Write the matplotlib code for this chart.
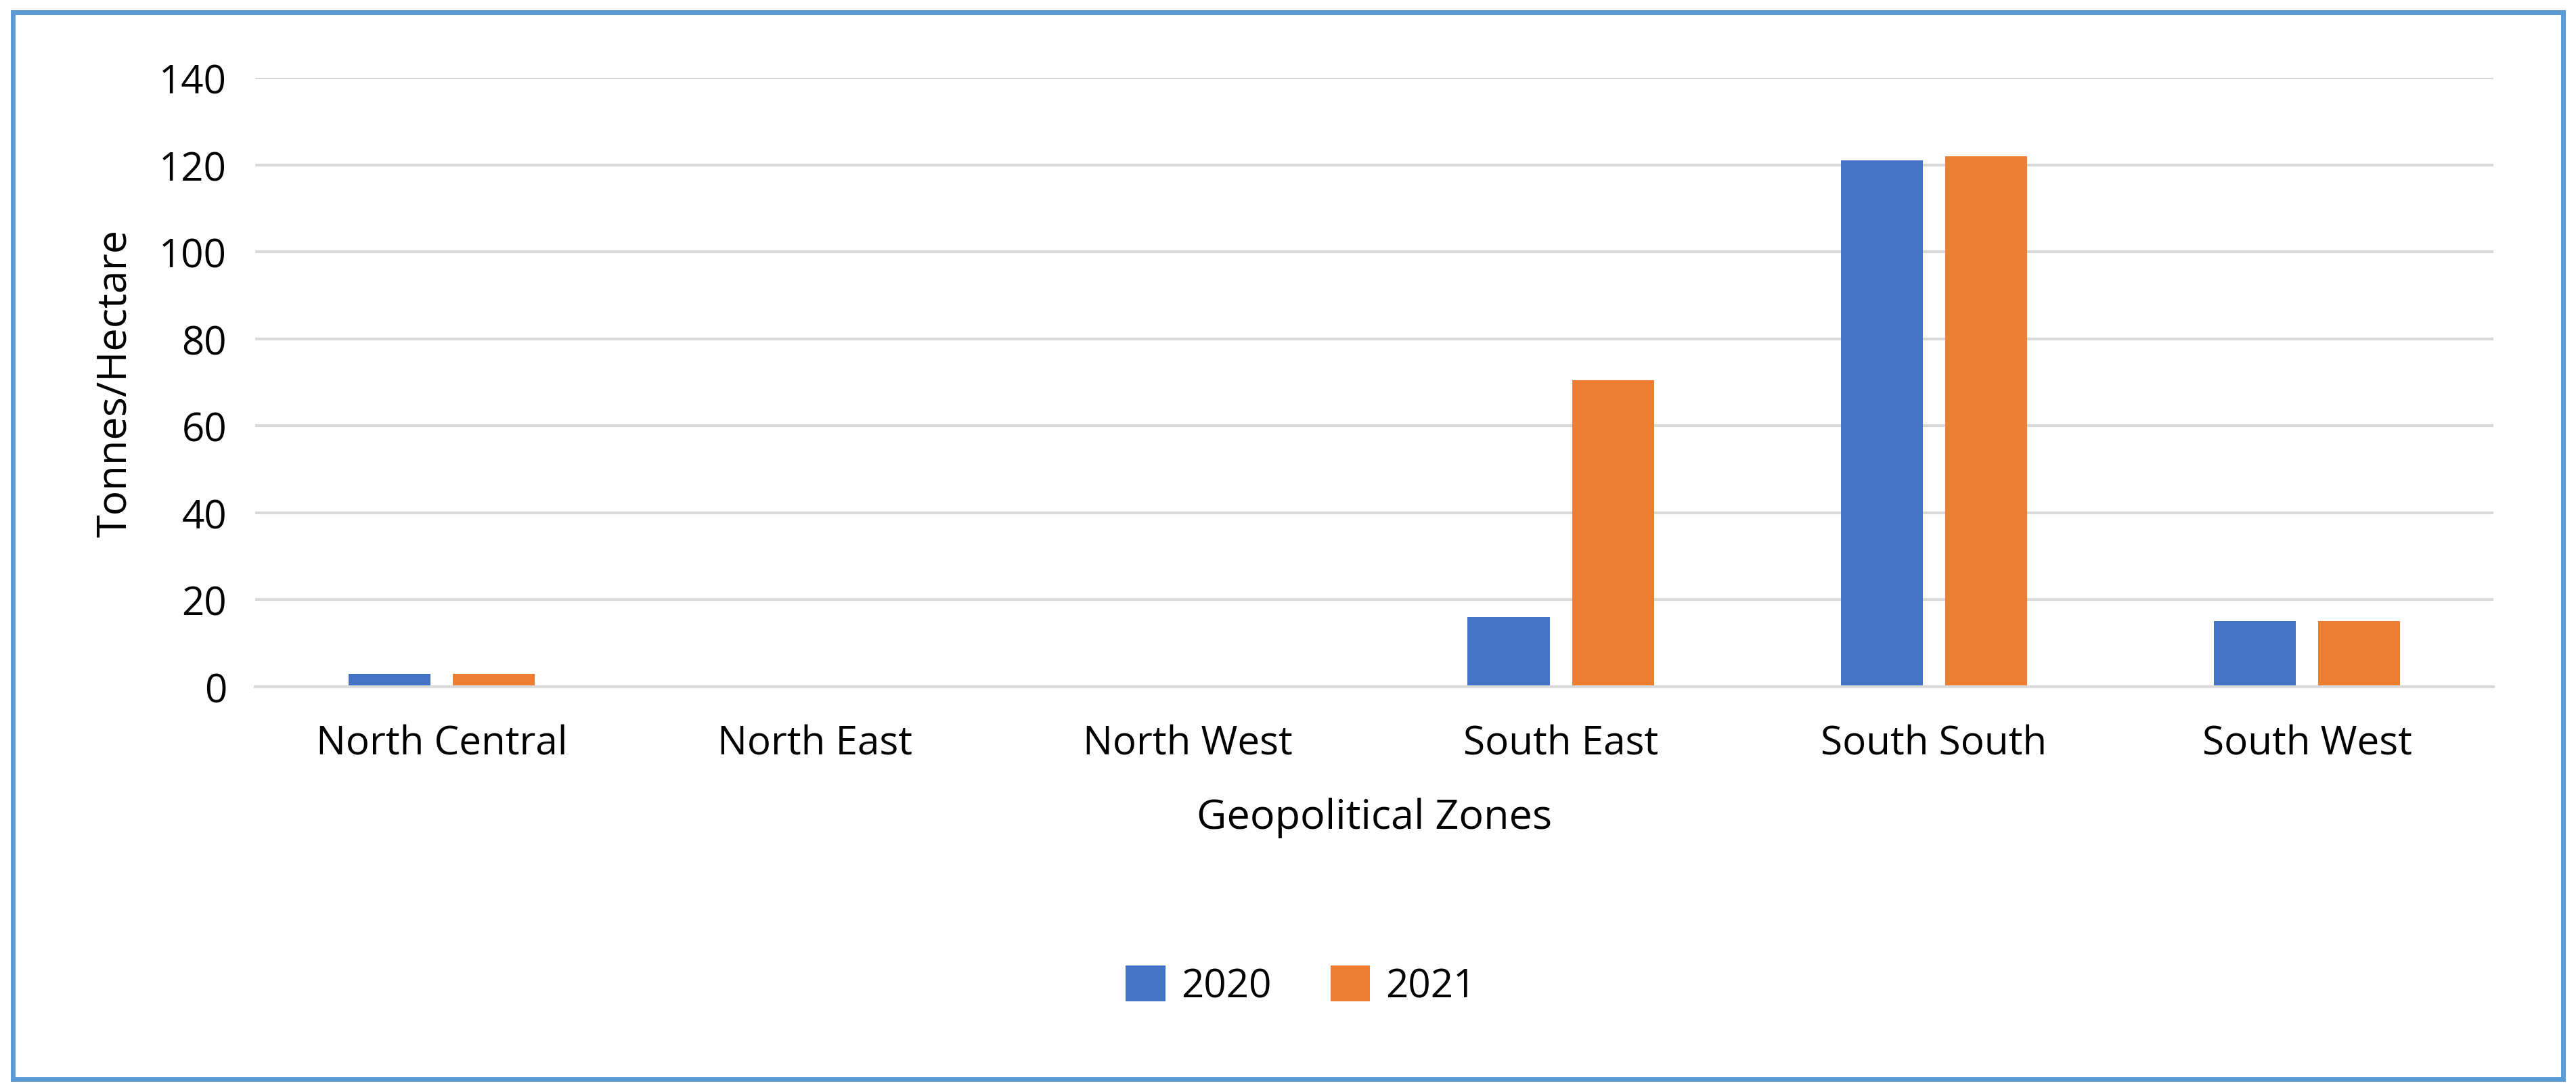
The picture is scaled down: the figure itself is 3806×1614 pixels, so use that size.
import matplotlib
matplotlib.use("Agg")
import matplotlib.pyplot as plt
import numpy as np
from matplotlib.patches import Rectangle

zones = ["North Central", "North East", "North West", "South East", "South South", "South West"]
y2020 = [3, 0, 0, 16, 121, 15]
y2021 = [3, 0, 0, 70.5, 122, 15]

plt.rcParams['font.family'] = ['Open Sans', 'DejaVu Sans']
fig = plt.figure(figsize=(38.06, 16.15), dpi=100)
ax = fig.add_axes([0.099, 0.371, 0.869, 0.557])
x = np.arange(len(zones))
w = 0.22
ax.bar(x - 0.14, y2020, w, color="#4472C4", label="2020")
ax.bar(x + 0.14, y2021, w, color="#ED7D31", label="2021")
ax.set_xlim(-0.5, 5.5)
ax.set_ylim(0, 140)
ax.set_yticks(range(0, 141, 20))
ax.yaxis.grid(True, color="#D9D9D9", linewidth=3)
ax.set_axisbelow(True)
for s in ["top", "right", "left"]:
    ax.spines[s].set_visible(False)
ax.spines["bottom"].set_color("#D9D9D9")
ax.spines["bottom"].set_linewidth(3)
ax.tick_params(axis="x", length=0, labelsize=42, pad=40, colors="black")
ax.tick_params(axis="y", length=0, labelsize=42, pad=30, colors="black")
ax.set_xticks(x)
ax.set_xticklabels(zones)
ax.set_ylabel("Tonnes/Hectare", fontsize=44, labelpad=25)
ax.set_xlabel("Geopolitical Zones", fontsize=44, labelpad=35)
fig.legend(loc="center", bbox_to_anchor=(0.505, 0.097), ncol=2, frameon=False,
           fontsize=42, handlelength=1, handleheight=1, columnspacing=1.5, handletextpad=0.4)
fig.patches.append(Rectangle((0.005, 0.012), 0.99, 0.976, transform=fig.transFigure,
                             fill=False, edgecolor="#5B9BD5", linewidth=5))
fig.savefig("out.png", dpi=100)
